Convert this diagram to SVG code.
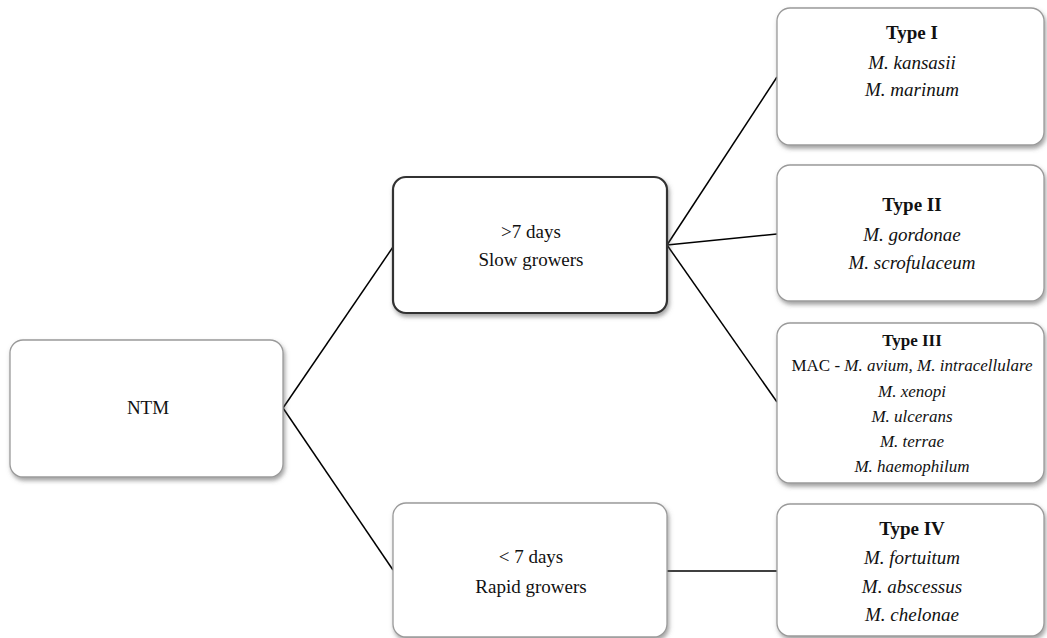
<svg xmlns="http://www.w3.org/2000/svg" width="1047" height="638" viewBox="0 0 1047 638">
<defs>
<filter id="sh" x="-10%" y="-10%" width="125%" height="130%">
<feDropShadow dx="1.5" dy="3" stdDeviation="2" flood-color="#555" flood-opacity="0.55"/>
</filter>
</defs>
<style>
.box{fill:#fff;stroke:#9a9a9a;stroke-width:1.3;filter:url(#sh)}
.dark{stroke:#333;stroke-width:2.2}
.txt text{fill:#111;text-anchor:middle}
.t{font-size:19px}
.s{font-size:17px}
.b{font-weight:bold}
.i{font-style:italic}
.con line{stroke:#000;stroke-width:1.5}
</style>
<rect width="1047" height="638" fill="#fff"/>
<g class="con">
<line x1="283" y1="408" x2="393" y2="247"/>
<line x1="283" y1="408" x2="393" y2="570"/>
<line x1="667" y1="245" x2="777" y2="77"/>
<line x1="667" y1="245" x2="777" y2="234"/>
<line x1="667" y1="245" x2="777" y2="402"/>
<line x1="667" y1="571" x2="777" y2="571"/>
</g>
<g class="txt" font-family="Liberation Serif, Times New Roman, serif">
<g id="ntm">
<rect class="box" x="10" y="340" width="273" height="137" rx="13"/>
<text class="t" x="148" y="414">NTM</text>
</g>
<g id="slow">
<rect class="box dark" x="393" y="177" width="274" height="136" rx="13"/>
<text class="t" x="531" y="238">&gt;7 days</text>
<text class="t" x="531" y="266">Slow growers</text>
</g>
<g id="rapid">
<rect class="box" x="393" y="503" width="274" height="134" rx="13"/>
<text class="t" x="531" y="563">&lt; 7 days</text>
<text class="t" x="531" y="593">Rapid growers</text>
</g>
<g id="type1">
<rect class="box" x="777" y="8" width="267" height="137" rx="13"/>
<text class="t b" x="912" y="39">Type I</text>
<text class="t i" x="912" y="69">M. kansasii</text>
<text class="t i" x="912" y="96">M. marinum</text>
</g>
<g id="type2">
<rect class="box" x="777" y="165" width="267" height="136" rx="13"/>
<text class="t b" x="912" y="211">Type II</text>
<text class="t i" x="912" y="241">M. gordonae</text>
<text class="t i" x="912" y="269">M. scrofulaceum</text>
</g>
<g id="type3">
<rect class="box" x="777" y="323" width="267" height="160" rx="13"/>
<text class="s b" x="912" y="346">Type III</text>
<text class="s" x="912" y="371">MAC - <tspan class="i">M. avium, M. intracellulare</tspan></text>
<text class="s i" x="912" y="397">M. xenopi</text>
<text class="s i" x="912" y="422">M. ulcerans</text>
<text class="s i" x="912" y="447">M. terrae</text>
<text class="s i" x="912" y="472">M. haemophilum</text>
</g>
<g id="type4">
<rect class="box" x="777" y="504" width="267" height="132" rx="13"/>
<text class="t b" x="912" y="535">Type IV</text>
<text class="t i" x="912" y="564">M. fortuitum</text>
<text class="t i" x="912" y="593">M. abscessus</text>
<text class="t i" x="912" y="621">M. chelonae</text>
</g>
</g>
</svg>
